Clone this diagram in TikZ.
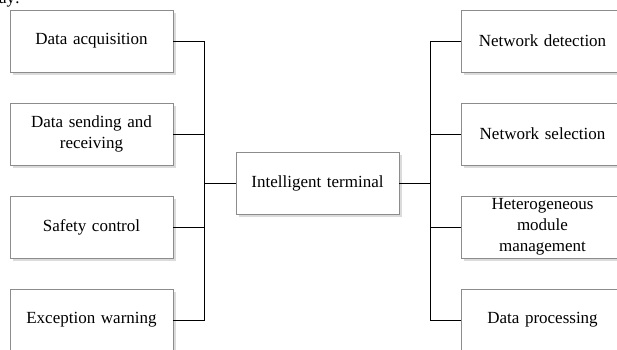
\documentclass[tikz,border=0pt]{standalone}
\usepackage{fontspec}
\setmainfont{Liberation Serif}
\usetikzlibrary{shadows}
\begin{document}
\begin{tikzpicture}[x=1pt,y=-1pt,
  box/.style={draw=black!45, fill=white, line width=0.6pt,
    minimum width=163pt, minimum height=62pt, inner sep=2pt,
    align=center, text width=150pt,
    font=\fontsize{17}{21}\selectfont,
    drop shadow={shadow xshift=2.5pt, shadow yshift=-2.5pt, fill=black!14, opacity=1}},
  link/.style={draw=black, line width=0.7pt}]
\useasboundingbox (0,0) rectangle (617,349);
\begin{scope}
\clip (0,0) rectangle (617,349);
\node[anchor=base west, inner sep=0pt, font=\fontsize{17}{21}\selectfont] (frag) at (-1,3) {ay:};
\node[box] (la) at (91.5,41) {Data acquisition};
\node[box] (lb) at (91.5,134) {Data sending and\\receiving};
\node[box] (lc) at (91.5,227) {Safety control};
\node[box] (ld) at (91.5,320) {Exception warning};
\node[box] (c) at (317.5,183) {Intelligent terminal};
\node[box] (ra) at (542.5,41) {Network detection};
\node[box] (rb) at (542.5,134) {Network selection};
\node[box] (rc) at (542.5,227) {Heterogeneous\\module\\management};
\node[box] (rd) at (542.5,320) {Data processing};
\coordinate (ls) at (204,183);
\coordinate (rs) at (430,183);
\draw[link] (la.east) -| (ls);
\draw[link] (lb.east) -| (ls);
\draw[link] (lc.east) -| (ls);
\draw[link] (ld.east) -| (ls);
\draw[link] (ls) -- (c.west);
\draw[link] (c.east) -- (rs);
\draw[link] (ra.west) -| (rs);
\draw[link] (rb.west) -| (rs);
\draw[link] (rc.west) -| (rs);
\draw[link] (rd.west) -| (rs);
\end{scope}
\end{tikzpicture}
\end{document}
